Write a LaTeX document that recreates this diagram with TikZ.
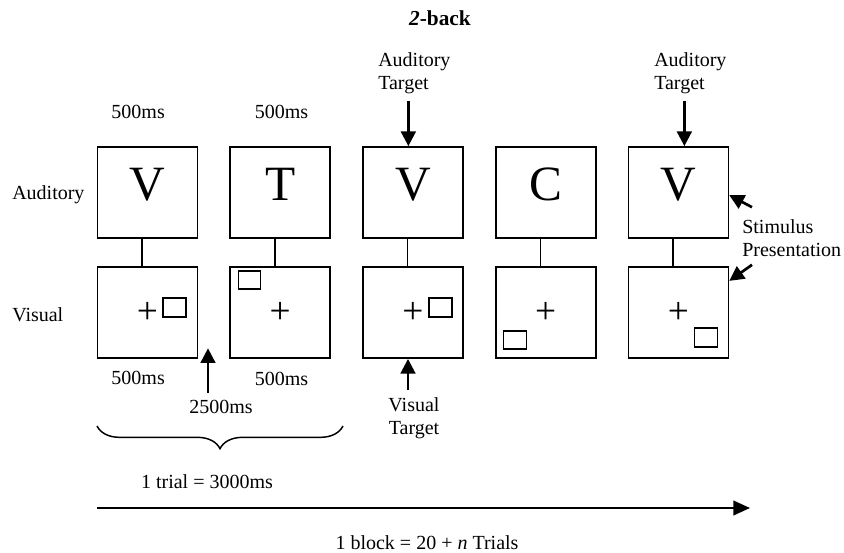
\documentclass[tikz,border=0pt]{standalone}
\usepackage{fontspec}
\setmainfont{Liberation Serif}
\usepackage{tikz}
\usetikzlibrary{arrows.meta, positioning, decorations.pathreplacing}

\begin{document}
\begin{tikzpicture}[x=0.75pt, y=-0.75pt,
    box/.style={draw, line width=1.3pt, minimum width=75pt, minimum height=68.25pt, inner sep=0pt},
    big/.style={font=\fontsize{37}{40}\selectfont, text depth=12pt},
    txt/.style={font=\fontsize{15}{17.25}\selectfont, inner sep=0pt, align=left},
    conn/.style={line width=1.1pt},
    arr/.style={line width=2pt, -{Triangle[length=11pt, width=11pt]}},
    tgt/.style={line width=1.1pt},
    cross/.style={font=\fontsize{28}{28}\selectfont, inner sep=0pt}]
    \useasboundingbox (0,0) rectangle (844,553);
    \node[txt, font=\fontsize{16}{18}\selectfont\bfseries] (title) at (440,18) {\textit{2}-back};
    % auditory row
    \node[box, big] (a1) at (147.5,192.5) {V};
    \node[box, big, right=23.25pt of a1] (a2) {T};
    \node[box, big, right=23.25pt of a2] (a3) {V};
    \node[box, big, right=23.25pt of a3] (a4) {C};
    \node[box, big, right=23.25pt of a4] (a5) {V};
    % visual row
    \node[box, below=20.5pt of a1] (v1) {};
    \node[box, below=20.5pt of a2] (v2) {};
    \node[box, below=20.5pt of a3] (v3) {};
    \node[box, below=20.5pt of a4] (v4) {};
    \node[box, below=20.5pt of a5] (v5) {};
    \draw[conn] ([xshift=-4pt]a1.south) -- ([xshift=-4pt]v1.north);
    \draw[conn] ([xshift=-4pt]a2.south) -- ([xshift=-4pt]v2.north);
    \draw[conn] ([xshift=-4pt]a3.south) -- ([xshift=-4pt]v3.north);
    \draw[conn] ([xshift=-4pt]a4.south) -- ([xshift=-4pt]v4.north);
    \draw[conn] ([xshift=-4pt]a5.south) -- ([xshift=-4pt]v5.north);
    % fixation crosses and targets
    \node[cross] (x1) at (v1) {+};
    \node[cross] (x2) at (v2) {+};
    \node[cross] (x3) at (v3) {+};
    \node[cross] (x4) at (v4) {+};
    \node[cross] (x5) at (v5) {+};
    \draw[tgt] ([shift={(15.5,-14.5)}]v1.center) rectangle ++(23,19);
    \draw[tgt] ([shift={(-41.5,-41.5)}]v2.center) rectangle ++(22,18);
    \draw[tgt] ([shift={(16,-14.5)}]v3.center) rectangle ++(23,19);
    \draw[tgt] ([shift={(-42,18.5)}]v4.center) rectangle ++(23,18);
    \draw[tgt] ([shift={(16,15.5)}]v5.center) rectangle ++(23,19);
    % labels
    \node[txt, anchor=west] (aud) at (12,195) {Auditory};
    \node[txt, anchor=west] (vis) at (12,315) {Visual};
    \node[txt] (t1) at ([xshift=-7pt, yshift=25.5pt]a1.north) {500ms};
    \node[txt] (t2) at ([xshift=1pt, yshift=25.5pt]a2.north) {500ms};
    \node[txt] (t3) at ([xshift=-7pt, yshift=-14pt]v1.south) {500ms};
    \node[txt] (t4) at ([xshift=1pt, yshift=-15pt]v2.south) {500ms};
    \node[txt] (isi) at (221,407) {2500ms};
    \node[txt, anchor=west] (at3) at (378,73) {Auditory\\Target};
    \node[txt, anchor=west] (at5) at (654,73) {Auditory\\Target};
    \node[txt, align=center] (vt) at (414,418) {Visual\\Target};
    \node[txt, anchor=west] (sp) at (742,238) {Stimulus\\Presentation};
    \draw[arr, shorten <=5pt] ([xshift=-4.5pt]at3.south) -- ([xshift=-4.5pt]at3.south |- a3.north);
    \draw[arr, shorten <=5pt] ([xshift=-4.5pt]at5.south) -- ([xshift=-4.5pt]at5.south |- a5.north);
    \draw[arr, shorten <=5pt] ([xshift=-4.5pt]vt.north) -- ([xshift=-4.5pt]vt.north |- v3.south);
    \draw[arr] ([xshift=-9.75pt, yshift=5pt]isi.north) -- ++(0,-45);
    \draw[arr] ([shift={(10,-12)}]sp.north west) -- ([yshift=-2pt]a5.east);
    \draw[arr] ([shift={(10,8)}]sp.south west) -- ([yshift=-11pt]v5.north east);
    % trial and block
    \draw[line width=1.1pt, decorate, decoration={brace, mirror, amplitude=17pt}] (97,426) -- (343,426);
    \node[txt] (trial) at (207,482) {1 trial = 3000ms};
    \coordinate (bs) at (97,508);
    \coordinate (be) at (750,508);
    \draw[line width=1.5pt, -{Triangle[length=12.5pt, width=11pt]}] (bs) -- (be);
    \node[txt] (block) at (427,543) {1 block = 20 + \textit{n} Trials};
\end{tikzpicture}
\end{document}
